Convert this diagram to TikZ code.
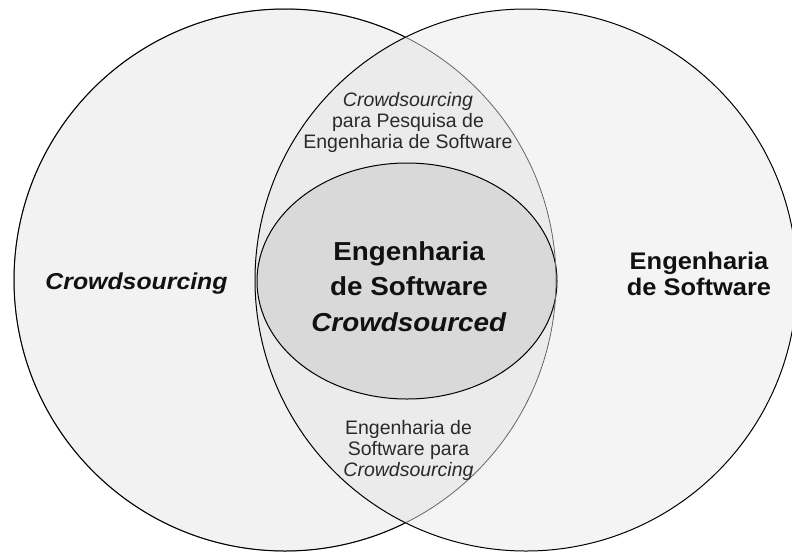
\documentclass[tikz,border=0pt]{standalone}
\usepackage{fontspec}
\setmainfont{Liberation Sans}
\usepackage{graphicx}
\usetikzlibrary{shapes.geometric}
\definecolor{leftfill}{HTML}{F2F2F2}
\definecolor{rightfill}{HTML}{F4F4F4}
\definecolor{lensfill}{HTML}{EBEBEB}
\definecolor{corefill}{HTML}{D9D9D9}
\definecolor{lensline}{HTML}{666666}
\definecolor{smalltext}{HTML}{2A2A2A}
\definecolor{bigtext}{HTML}{111111}
\tikzset{
  setcircle/.style={circle, minimum size=542pt, inner sep=0pt, outer sep=0pt},
  outline/.style={line width=1pt, draw=black},
  smalllabel/.style={anchor=base, inner sep=0pt, text=smalltext, font=\fontsize{19.5}{21}\selectfont},
  biglabel/.style={anchor=base, inner sep=0pt, text=bigtext}
}
\begin{document}
\begin{tikzpicture}[x=1pt,y=-1pt]
\useasboundingbox (0,0) rectangle (792,555);
\fill[white] (0,0) rectangle (792,555);

% the two sets
\node[setcircle, fill=leftfill] (L) at (285,280) {};
\node[setcircle, fill=rightfill] (R) at (526,280) {};

% intersection lens
\begin{scope}
  \clip (L.center) circle[radius=271pt];
  \fill[lensfill] (R.center) circle[radius=271pt];
\end{scope}

% core ellipse
\node[ellipse, outline, fill=corefill, minimum width=300pt, minimum height=236pt, inner sep=0pt] (E) at (407,281) {};

% outlines
\draw[outline] (R.center) circle[radius=271pt];
\draw[lensline, line width=0.8pt] (L.center) circle[radius=271pt];
\begin{scope}
  \clip (0,0) rectangle (405.5,555);
  \draw[outline] (L.center) circle[radius=271pt];
\end{scope}

% labels
\node[biglabel, font=\fontsize{23}{28}\selectfont\bfseries\itshape] (tL) at (136.5,289) {\scalebox{1.08}[1]{Crowdsourcing}};
\node[biglabel, font=\fontsize{24}{26}\selectfont\bfseries] (tR) at (699,295) {\scalebox{1.06}[1]{\begin{tabular}[b]{@{}c@{}}Engenharia\\de Software\end{tabular}}};
\node[biglabel, font=\fontsize{26}{35.5}\selectfont\bfseries] (tC) at (409,331) {\scalebox{1.07}[1]{\begin{tabular}[b]{@{}c@{}}Engenharia\\de Software\\\textit{Crowdsourced}\end{tabular}}};
\node[smalllabel] (tT) at (408,148.3) {\begin{tabular}[b]{@{}c@{}}\textit{Crowdsourcing}\\para Pesquisa de\\Engenharia de Software\end{tabular}};
\node[smalllabel] (tB) at (408.5,476.7) {\begin{tabular}[b]{@{}c@{}}Engenharia de\\Software para\\\textit{Crowdsourcing}\end{tabular}};
\end{tikzpicture}
\end{document}
